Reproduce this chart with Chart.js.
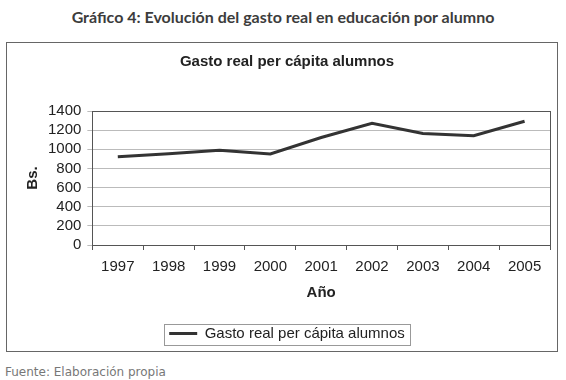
<!DOCTYPE html>
<html>
<head>
<meta charset="utf-8">
<script src="https://cdn.jsdelivr.net/npm/chart.js@4/dist/chart.umd.min.js"></script>
<style>
  body { margin: 0; background: #fff; width: 566px; height: 380px; position: relative; overflow: hidden; }
  #head { position: absolute; top: 7px; left: 0; width: 566px; text-align: center;
          font: bold 16px "Lato", sans-serif; color: #3c3c3c; }
  #box { position: absolute; left: 6px; top: 42px; width: 550px; height: 308px; border: 1px solid #666; }
  #foot { position: absolute; left: 5px; top: 365px; font: 12px "DejaVu Sans", sans-serif; color: #777; }
</style>
</head>
<body>
<div id="head">Gráfico 4: Evolución del gasto real en educación por alumno</div>
<div id="box"><canvas id="myChart" width="550" height="308"></canvas></div>
<div id="foot">Fuente: Elaboración propia</div>
<script>
var years = ["1997", "1998", "1999", "2000", "2001", "2002", "2003", "2004", "2005"];
var gasto = [923, 954, 989, 951, 1123, 1272, 1165, 1141, 1293];
var yTicks = [0, 200, 400, 600, 800, 1000, 1200, 1400];

// frame around plot area and around the legend item
var frames = {
    id: 'frames',
    afterDraw: function(chart){
        var ctx = chart.ctx;
        var a = chart.chartArea;
        ctx.save();
        ctx.strokeStyle = '#555';
        ctx.lineWidth = 1;
        ctx.strokeRect(Math.round(a.left) + 0.5, Math.round(a.top) + 0.5, Math.round(a.right - a.left), Math.round(a.bottom - a.top));
        var h = chart.legend.legendHitBoxes[0];
        ctx.strokeStyle = '#999';
        ctx.strokeRect(Math.round(h.left - 5) + 0.5, Math.round(h.top - 2) + 0.5, Math.round(h.width + 10), Math.round(h.height + 6));
        ctx.restore();
    }
};

var ctx = document.getElementById('myChart').getContext('2d');
var chart = new Chart(ctx, {
    type: 'line',
    data: {
        labels: years,
        datasets: [{
            label: 'Gasto real per cápita alumnos',
            data: gasto,
            borderColor: '#333',
            backgroundColor: '#333',
            borderWidth: 3,
            pointRadius: 0,
            tension: 0
        }]
    },
    options: {
        responsive: false,
        animation: false,
        layout: { padding: { left: 17, right: 7, top: 0, bottom: 0 } },
        plugins: {
            title: {
                display: true,
                text: 'Gasto real per cápita alumnos',
                color: '#222',
                font: { family: 'Liberation Sans', size: 15, weight: 'bold' },
                padding: { top: 10, bottom: 40 }
            },
            legend: {
                position: 'bottom',
                labels: {
                    color: '#222',
                    font: { family: 'Liberation Sans', size: 15 },
                    boxWidth: 28,
                    boxHeight: 3,
                    padding: 3,
                    generateLabels: function(chart){
                        var items = Chart.defaults.plugins.legend.labels.generateLabels(chart);
                        items.forEach(function(it){ it.lineWidth = 0; });
                        return items;
                    }
                }
            },
            tooltip: { enabled: false }
        },
        scales: {
            x: {
                offset: true,
                grid: { offset: true, drawOnChartArea: false, drawTicks: true, tickLength: 5, color: '#555' },
                border: { color: '#555' },
                ticks: { color: '#222', font: { family: 'Liberation Sans', size: 15 }, padding: 8, maxRotation: 0, autoSkip: false },
                title: { display: true, text: 'Año', color: '#222', font: { family: 'Liberation Sans', size: 15, weight: 'bold' }, padding: { top: 0, bottom: 21 } }
            },
            y: {
                min: 0,
                max: 1400,
                afterBuildTicks: function(axis){ axis.ticks = yTicks.map(function(v){ return { value: v }; }); },
                grid: { color: '#bbb', tickLength: 5 },
                border: { color: '#555' },
                ticks: { color: '#222', font: { family: 'Liberation Sans', size: 15 }, padding: 6, autoSkip: false,
                         callback: function(v){ return String(v); } },
                title: { display: true, text: 'Bs.', color: '#222', font: { family: 'Liberation Sans', size: 15, weight: 'bold' }, padding: { top: 0, bottom: 0 } }
            }
        }
    },
    plugins: [frames]
});
</script>
</body>
</html>
